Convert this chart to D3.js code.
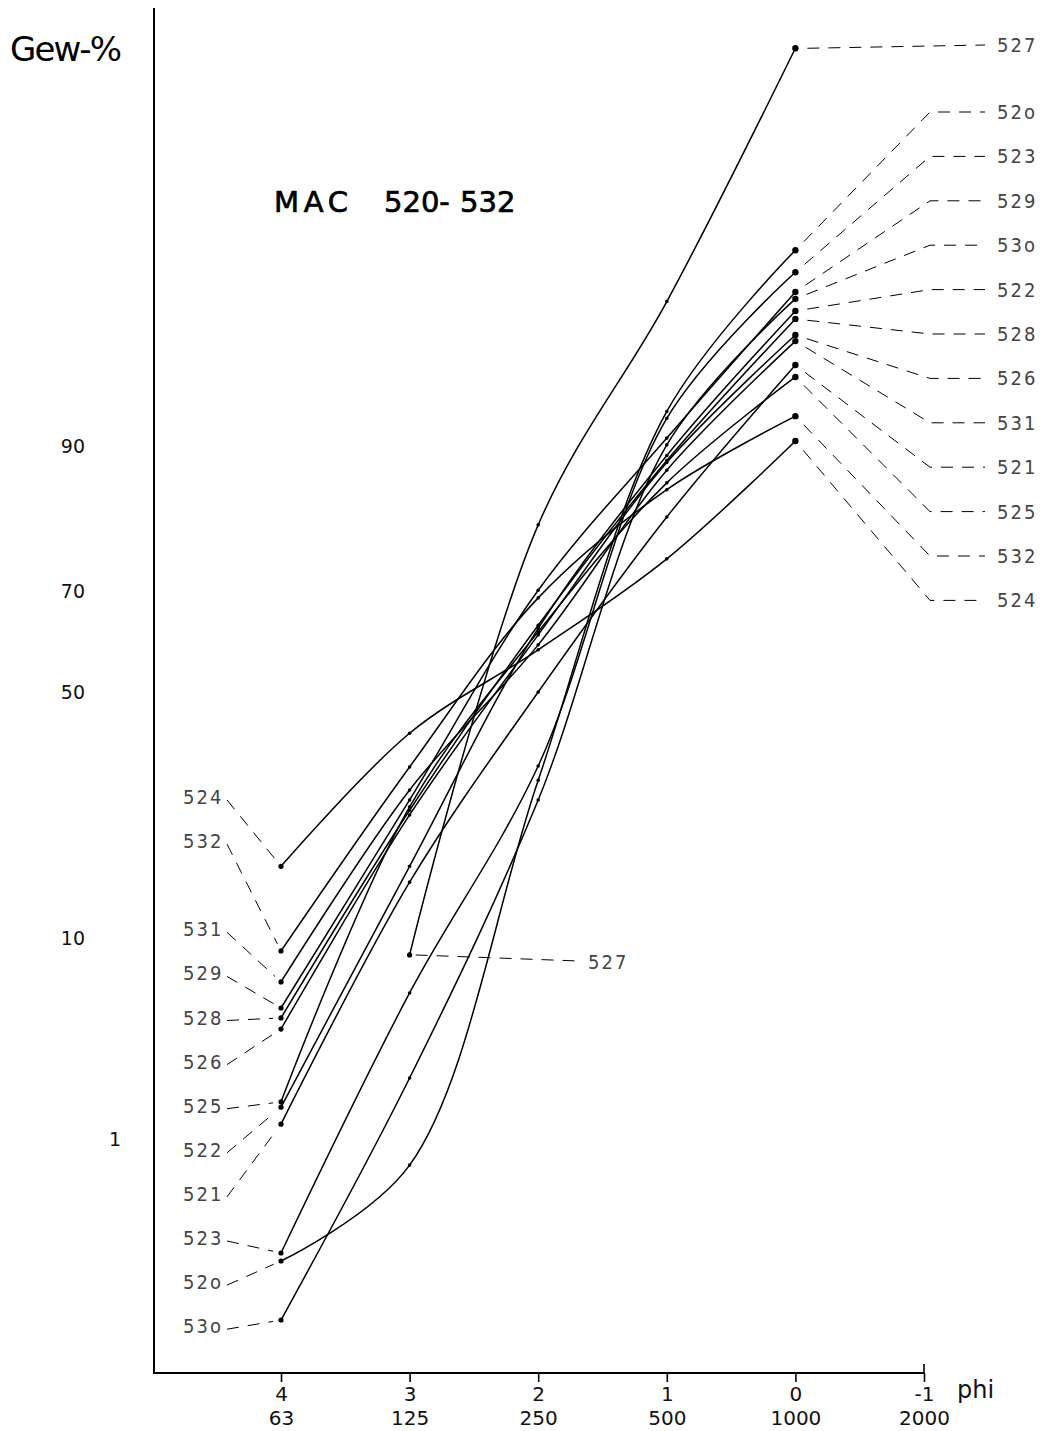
<!DOCTYPE html>
<html><head><meta charset="utf-8">
<script src="https://cdn.jsdelivr.net/npm/d3@7"></script>
<style>body{margin:0;background:#fff}</style>
</head><body>
<svg id="c" width="1048" height="1431"></svg>
<script>
// ---------- data ----------
const phiPoints = [4, 3, 2, 1, 0];
const phiTicks = [4, 3, 2, 1, 0, -1];
const micronLabels = ["63", "125", "250", "500", "1000", "2000"];
const pctTicks = [1, 10, 50, 70, 90];
const sampleNames = ["520","521","522","523","524","525","526","527","528","529","530","531","532"];
// cumulative weight-% at phi 4,3,2,1,0 (null = not measured)
const s520 = [0.152, 0.687, 32.3, 92.8, 98.93];
const s521 = [1.22, 16.1, 50.0, 81.9, 95.57];
const s522 = [1.53, 18.2, 63.0, 89.1, 97.64];
const s523 = [0.174, 5.85, 35.0, 92.3, 98.56];
const s524 = [18.2, 41.5, 58.7, 75.6, 90.44];
const s525 = [1.64, 27.5, 62.3, 86.2, 94.96];
const s526 = [3.96, 26.1, 61.7, 88.4, 96.85];
const s527 = [null, 8.54, 80.8, 97.9, 99.96];
const s528 = [4.48, 26.9, 63.6, 88.6, 97.40];
const s529 = [4.99, 28.7, 70.2, 90.7, 98.14];
const s530 = [0.0536, 2.22, 28.7, 90.1, 97.97];
const s531 = [6.55, 30.5, 59.7, 87.6, 96.62];
const s532 = [8.87, 34.8, 68.8, 85.4, 92.46];
const sampleValues = [s520,s521,s522,s523,s524,s525,s526,s527,s528,s529,s530,s531,s532];
const rightLabelOrder = ["527","520","523","529","530","522","528","526","531","521","525","532","524"];
const leftLabelOrder = ["524","532","","531","529","528","526","525","522","521","523","520","530"];

// ---------- helpers ----------
function probit(p){
  const a=[-3.969683028665376e+01,2.209460984245205e+02,-2.759285104469687e+02,1.383577518672690e+02,-3.066479806614716e+01,2.506628277459239e+00];
  const b=[-5.447609879822406e+01,1.615858368580409e+02,-1.556989798598866e+02,6.680131188771972e+01,-1.328068155288572e+01];
  const c=[-7.784894002430293e-03,-3.223964580411365e-01,-2.400758277161838e+00,-2.549732539343734e+00,4.374664141464968e+00,2.938163982698783e+00];
  const d=[7.784695709041462e-03,3.224671290700398e-01,2.445134137142996e+00,3.754408661907416e+00];
  const pl=0.02425, ph=1-pl; let q,r;
  if(p<pl){q=Math.sqrt(-2*Math.log(p));return (((((c[0]*q+c[1])*q+c[2])*q+c[3])*q+c[4])*q+c[5])/((((d[0]*q+d[1])*q+d[2])*q+d[3])*q+1);}
  if(p<=ph){q=p-0.5;r=q*q;return (((((a[0]*r+a[1])*r+a[2])*r+a[3])*r+a[4])*r+a[5])*q/(((((b[0]*r+b[1])*r+b[2])*r+b[3])*r+b[4])*r+1);}
  q=Math.sqrt(-2*Math.log(1-p));return -(((((c[0]*q+c[1])*q+c[2])*q+c[3])*q+c[4])*q+c[5])/((((d[0]*q+d[1])*q+d[2])*q+d[3])*q+1);
}
const disp = n => n.replace(/0$/, "o");

const svg = d3.select("#c");
const x = d3.scaleLinear().domain([4, -1]).range([281, 924]);
const yLin = d3.scaleLinear().domain([0, 1]).range([692, 500]); // probit units
const y = p => yLin(probit(p / 100));

const font = "'DejaVu Sans', sans-serif";
const thinFont = "'DejaVu Sans Condensed', 'DejaVu Sans', sans-serif";

// ---------- axes ----------
svg.append("line").attr("x1",154).attr("x2",154).attr("y1",8).attr("y2",1374)
  .attr("stroke","#000").attr("stroke-width",2);

const yAxis = d3.axisLeft(yLin)
  .tickValues(pctTicks.map(p => probit(p/100)))
  .tickFormat((d,i) => pctTicks[i])
  .tickSize(0).tickPadding(69);
const gy = svg.append("g").attr("transform","translate(154,0)").call(yAxis);
gy.select(".domain").remove();
gy.selectAll("text").attr("font-family",font).attr("font-size",19).attr("fill","#111")
  .attr("dy","0.35em")
  .attr("x", (d,i) => pctTicks[i] === 1 ? -33 : -69);

const xAxis = d3.axisBottom(x).tickValues(phiTicks).tickSize(9).tickPadding(5)
  .tickFormat(d => d);
const gx = svg.append("g").attr("transform","translate(0,1373)").call(xAxis);
gx.select(".domain").attr("d","M155,0H924").attr("stroke-width",2);
gx.selectAll(".tick line").attr("stroke-width",1.6);
gx.selectAll(".tick text").attr("font-family",font).attr("font-size",20).attr("fill","#111");
gx.selectAll(".tick").append("text")
  .attr("y",52).attr("text-anchor","middle")
  .attr("font-family",font).attr("font-size",20).attr("fill","#111")
  .text((d,i) => micronLabels[i]);
svg.append("line").attr("x1",x(-1)).attr("x2",x(-1)).attr("y1",1364).attr("y2",1373)
  .attr("stroke","#000").attr("stroke-width",1.6);
svg.append("text").attr("x",957).attr("y",1398).attr("font-family",font)
  .attr("font-size",24).attr("fill","#111").text("phi");

// ---------- titles ----------
svg.append("text").attr("x",10).attr("y",61).attr("font-family",font)
  .attr("font-size",34).attr("textLength",112).attr("fill","#000").text("Gew-%");
const tg = svg.append("g").attr("font-family",font).attr("font-size",29)
  .attr("fill","#000").attr("stroke","#000").attr("stroke-width",0.7);
tg.append("text").attr("x",274).attr("y",212).attr("textLength",74).text("MAC");
tg.append("text").attr("x",384).attr("y",212).text("520-");
tg.append("text").attr("x",460).attr("y",212).text("532");

// ---------- curves ----------
const line = d3.line()
  .defined(d => d.v != null)
  .x(d => x(d.phi)).y(d => y(d.v))
  .curve(d3.curveCatmullRom.alpha(0.5));

const series = sampleNames.map((n, k) => ({
  name: n,
  pts: phiPoints.map((phi, i) => ({phi, v: sampleValues[k][i]}))
}));

const gl = svg.append("g");
series.forEach(s => {
  gl.append("path").attr("d", line(s.pts.filter(d => d.v != null)))
    .attr("fill","none").attr("stroke","#000").attr("stroke-width",1.5);
  s.pts.filter(d => d.v != null).forEach((d, i) => {
    gl.append("circle").attr("cx", x(d.phi)).attr("cy", y(d.v))
      .attr("r", d.phi === 0 ? 3.2 : (i === 0 ? 2.6 : 1.8)).attr("fill","#000");
  });
});

// ---------- label leaders ----------
const dash = "12,9";
const lab = svg.append("g");
function leader(pts){
  lab.append("path").attr("d", d3.line()(pts)).attr("fill","none")
    .attr("stroke","#000").attr("stroke-width",1).attr("stroke-dasharray",dash);
}
function labelText(tx, ty, t){
  lab.append("text").attr("x",tx).attr("y",ty).attr("font-family",thinFont)
    .attr("font-size",20).attr("letter-spacing",2).attr("fill","#444").text(t);
}
const valOf = (n, idx) => sampleValues[sampleNames.indexOf(n)][idx];

// right side
rightLabelOrder.forEach((n, i) => {
  const ly = i === 0 ? 45 : 112 + (i - 1) * 44.4;
  const px = x(0), py = y(valOf(n, 4));
  if (i === 0) {
    leader([[px + 12, py], [985, ly]]);
  } else {
    const ex = 930;
    const dx = ex - px, dy = ly - py, L = Math.hypot(dx, dy);
    leader([[px + 12 * dx / L, py + 12 * dy / L], [ex, ly], [985, ly]]);
  }
  labelText(997, ly + 7, disp(n));
});

// left side
leftLabelOrder.forEach((n, i) => {
  if (!n) return;
  const ly = 797 + i * 44.1;
  const px = x(4), py = y(valOf(n, 0));
  const sx = 227, sy = ly + 3;
  const dx = sx - px, dy = sy - py, L = Math.hypot(dx, dy);
  leader([[sx, sy], [px + 8 * dx / L, py + 8 * dy / L]]);
  labelText(183, ly + 7, disp(n));
});

// middle 527 label
{
  const px = x(3), py = y(valOf("527", 1));
  leader([[px + 6, py], [578, py + 6]]);
  labelText(588, py + 14, "527");
}
</script>
</body></html>
